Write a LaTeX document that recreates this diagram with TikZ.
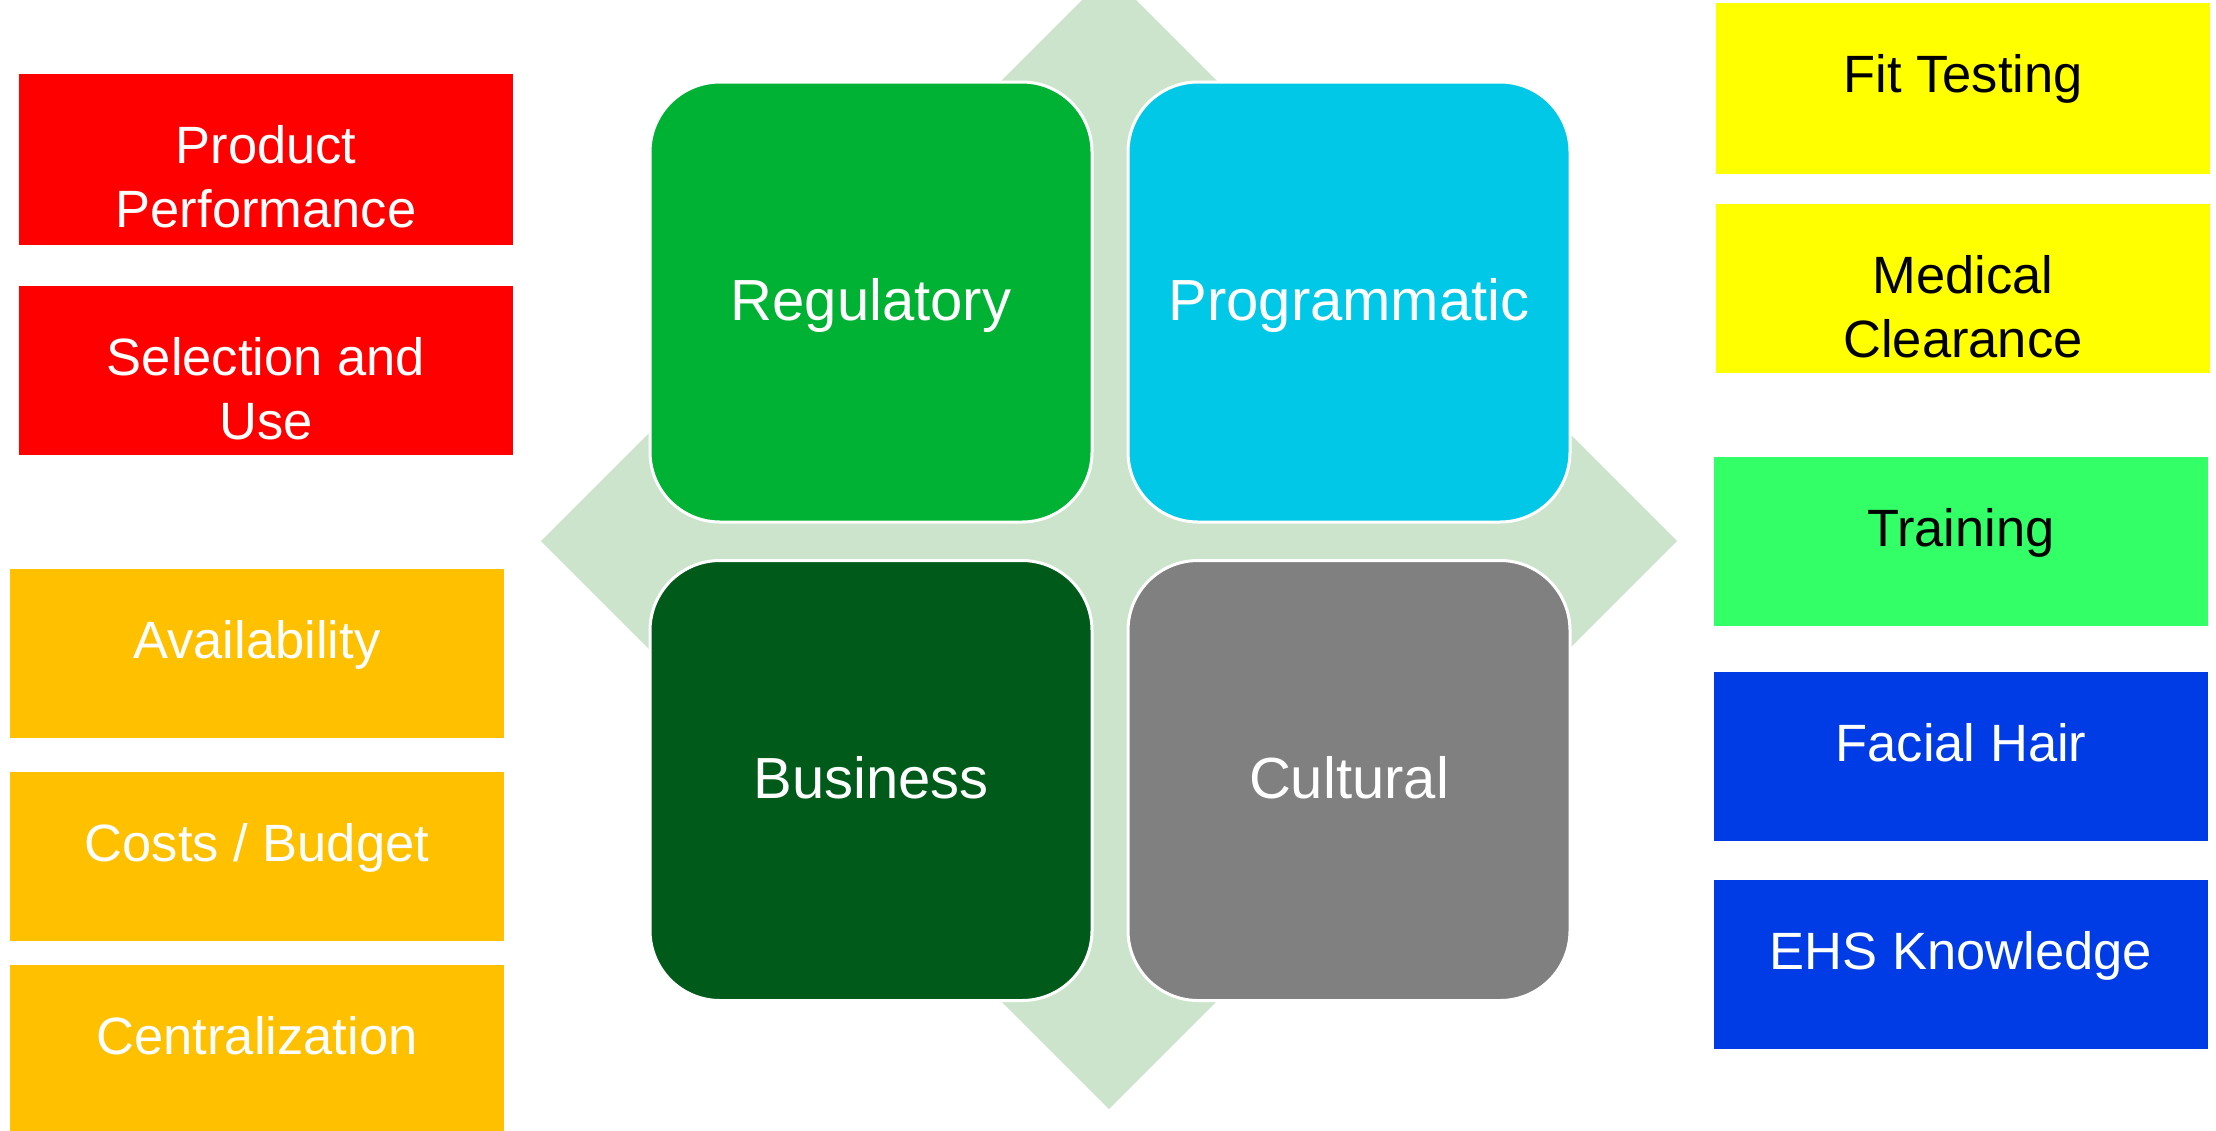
\documentclass[tikz,border=0pt]{standalone}
\usepackage{fontspec}
\setmainfont{Liberation Sans}
\definecolor{diamcol}{RGB}{204,228,204}
\definecolor{regcol}{RGB}{0,178,51}
\definecolor{progcol}{RGB}{0,200,230}
\definecolor{buscol}{RGB}{0,90,26}
\definecolor{culcol}{RGB}{128,128,128}
\definecolor{redcol}{RGB}{255,0,0}
\definecolor{orangecol}{RGB}{255,192,0}
\definecolor{yellowcol}{RGB}{255,255,0}
\definecolor{greencol}{RGB}{51,255,102}
\definecolor{bluecol}{RGB}{0,60,230}
\begin{document}
\begin{tikzpicture}[x=1pt,y=-1pt,
  quad/.style={rectangle, rounded corners=70pt, draw=white, line width=3pt,
    minimum width=442pt, minimum height=440pt, inner sep=0pt, text=white,
    text height=48pt, text depth=12pt, font=\fontsize{58}{70}\selectfont},
  sidebox/.style={rectangle, anchor=north west, inner sep=0pt, draw=none,
    minimum width=494pt},
  sidetext/.style={anchor=base, inner sep=0pt, font=\fontsize{52.5}{64}\selectfont}
]
\useasboundingbox (0,0) rectangle (2216,1130);
\begin{scope}
  \clip (0,0) rectangle (2216,1130);
  \fill[diamcol] (1109,-27) -- (1677,541) -- (1109,1109) -- (541,541) -- cycle;
\end{scope}

% quadrants
\node[quad, fill=regcol]  (reg)  at (871,302)   {Regulatory};
\node[quad, fill=progcol] (prog) at (1349,302)  {Programmatic};
\node[quad, fill=buscol]  (bus)  at (871,780.5) {Business};
\node[quad, fill=culcol]  (cul)  at (1349,780.5){Cultural};

% left boxes
\node[sidebox, fill=redcol, minimum height=171pt] (pp) at (19,74) {};
\node[sidetext, text=white] (ppt) at (266,163)
  {\begin{tabular}[t]{@{}c@{}}Product\\Performance\end{tabular}};
\node[sidebox, fill=redcol, minimum height=169pt] (su) at (19,286) {};
\node[sidetext, text=white] (sut) at (266,375)
  {\begin{tabular}[t]{@{}c@{}}Selection and\\Use\end{tabular}};
\node[sidebox, fill=orangecol, minimum height=169pt] (av) at (10,569) {};
\node[sidetext, text=white] (avt) at (257,658) {Availability};
\node[sidebox, fill=orangecol, minimum height=169pt] (cb) at (10,772) {};
\node[sidetext, text=white] (cbt) at (257,861) {Costs / Budget};
\node[sidebox, fill=orangecol, minimum height=175pt] (ce) at (10,965) {};
\node[sidetext, text=white] (cet) at (257,1054) {Centralization};

% right boxes
\node[sidebox, fill=yellowcol, minimum height=171pt] (ft) at (1716,3) {};
\node[sidetext, text=black] (ftt) at (1963,92) {Fit Testing};
\node[sidebox, fill=yellowcol, minimum height=169pt] (mc) at (1716,204) {};
\node[sidetext, text=black] (mct) at (1963,293)
  {\begin{tabular}[t]{@{}c@{}}Medical\\Clearance\end{tabular}};
\node[sidebox, fill=greencol, minimum height=169pt] (tr) at (1714,457) {};
\node[sidetext, text=black] (trt) at (1961,546) {Training};
\node[sidebox, fill=bluecol, minimum height=169pt] (fh) at (1714,672) {};
\node[sidetext, text=white] (fht) at (1961,761) {Facial Hair};
\node[sidebox, fill=bluecol, minimum height=169pt] (ehs) at (1714,880) {};
\node[sidetext, text=white] (ehst) at (1961,969) {EHS Knowledge};
\end{tikzpicture}
\end{document}
